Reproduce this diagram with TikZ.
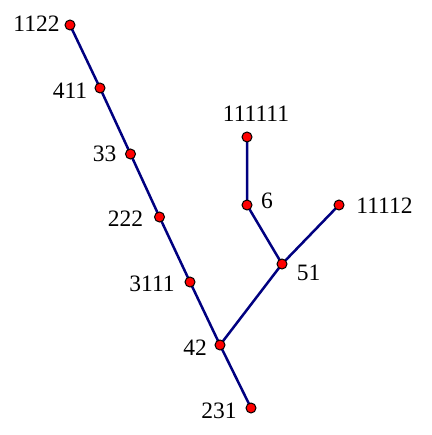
\documentclass[tikz,border=0pt]{standalone}
\usepackage{fontspec}
\setmainfont{Liberation Serif}
\definecolor{edgeblue}{RGB}{0,0,128}
\begin{document}
\begin{tikzpicture}[x=1pt,y=-1pt,
  vtx/.style={circle,fill=red,draw=black,line width=1pt,inner sep=0pt,minimum size=10pt},
  lbl/.style={inner sep=0pt,font=\fontsize{23.5}{26}\selectfont},
  edge/.style={draw=edgeblue,line width=2.5pt}]
\useasboundingbox (0,0) rectangle (431,435);
\coordinate (v1122) at (70,25);
\coordinate (v411) at (100,88);
\coordinate (v33) at (130.5,154);
\coordinate (v222) at (159.5,217);
\coordinate (v3111) at (190,282);
\coordinate (v42) at (220,345);
\coordinate (v231) at (251,408);
\coordinate (v51) at (282,264);
\coordinate (v6) at (247,205);
\coordinate (v111111) at (247,137);
\coordinate (v11112) at (339,205);
\path[edge] (v1122) -- (v411) -- (v33) -- (v222) -- (v3111) -- (v42) -- (v231);
\path[edge] (v42) -- (v51) -- (v6) -- (v111111);
\path[edge] (v51) -- (v11112);
\foreach \v in {1122,411,33,222,3111,42,231,51,6,111111,11112}
  \node[vtx] (n\v) at (v\v) {};
\node[lbl] (l1122) at (36.5,24) {1122};
\node[lbl] (l411) at (70,91) {411};
\node[lbl] (l33) at (104.5,153.5) {33};
\node[lbl] (l222) at (125.5,219) {222};
\node[lbl] (l3111) at (152,284) {3111};
\node[lbl] (l42) at (195,348) {42};
\node[lbl] (l231) at (219,411) {231};
\node[lbl] (l51) at (308.5,273) {51};
\node[lbl] (l6) at (267,200.5) {6};
\node[lbl] (l111111) at (256,114) {111111};
\node[lbl] (l11112) at (384.5,205.5) {11112};
\end{tikzpicture}
\end{document}
